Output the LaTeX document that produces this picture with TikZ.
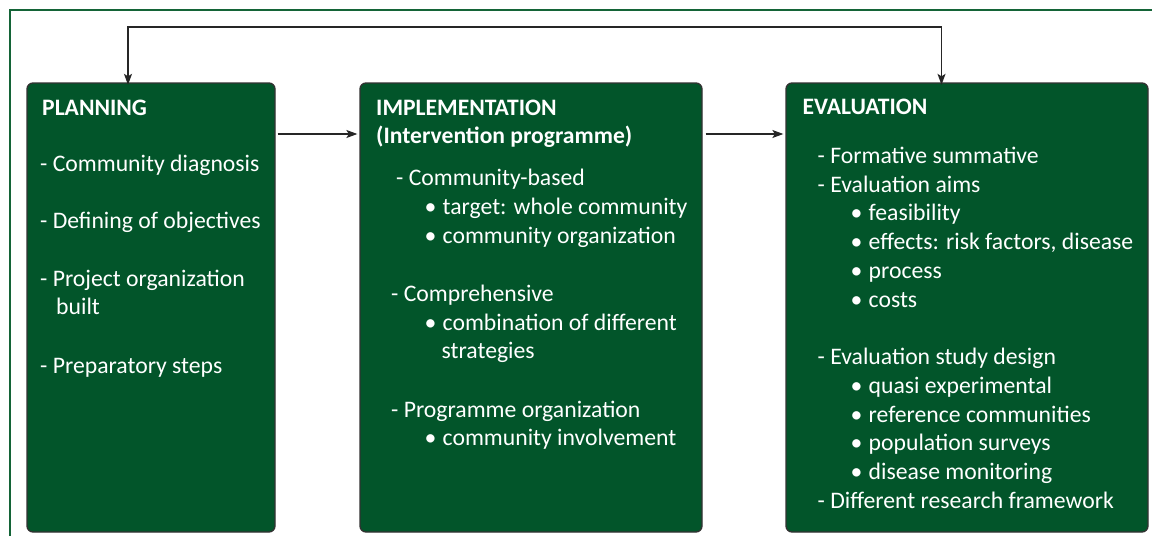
\documentclass[tikz,border=0pt]{standalone}
\usepackage{fontspec}
\setmainfont{Carlito}
\usetikzlibrary{arrows.meta,calc}
\definecolor{boxgreen}{RGB}{2,85,42}
\definecolor{framegreen}{RGB}{20,100,55}
\definecolor{edgegray}{RGB}{50,50,50}
\newcommand{\bul}{\makebox[14.5pt][l]{\hspace{-3.5pt}•}}
\tikzset{
  box/.style={draw=edgegray, line width=1.3pt, fill=boxgreen, rounded corners=6pt, inner sep=0pt},
  txt/.style={anchor=base west, inner sep=0pt, text=white, font=\fontsize{23.7}{28}\selectfont},
  ttl/.style={txt, font=\fontsize{23.6}{28}\selectfont\bfseries},
  arr/.style={draw=black!85, line width=1.3pt, -{Stealth[length=11pt,width=8pt,inset=2.5pt]}},
}
\begin{document}
\begin{tikzpicture}[x=1pt,y=-1pt]
\useasboundingbox (0,0) rectangle (1152,536);
\fill[white] (0,0) rectangle (1152,536);
\draw[framegreen, line width=1.8pt] (10,536) -- (10,10) -- (1152,10);
% boxes
\node[box, minimum width=248pt, minimum height=449pt] (plan) at (151,307.5) {};
\node[box, minimum width=342pt, minimum height=449pt] (impl) at (531,307.5) {};
\node[box, minimum width=362pt, minimum height=449pt] (eval) at (967,307.5) {};
% connectors
\coordinate (tl) at (128,27);
\coordinate (tr) at (941.5,27);
\draw[arr] (tr) -- (tl) -- ([yshift=-2.5pt]plan.north -| tl);
\draw[arr] (tl) -- (tr) -- ([yshift=-2.5pt]eval.north -| tr);
\draw[arr] (plan.east |- 0,134) ++(2,0) coordinate (a1) -- ([xshift=-2pt]impl.west |- a1);
\draw[arr] (impl.east |- 0,134) ++(3,0) coordinate (a2) -- ([xshift=-2pt]eval.west |- a2);
% planning text
\node[ttl] (p0) at (42,115) {PLANNING};
\node[txt] (p1) at (40,171) {- Community diagnosis};
\node[txt] (p2) at (40,228.5) {- Defining of objectives};
\node[txt] (p3) at (40,286.5) {- Project organization};
\node[txt] (p4) at (56,314.5) {built};
\node[txt] (p5) at (40,373) {- Preparatory steps};
% implementation text
\node[ttl] (i0) at (376,115) {IMPLEMENTATION};
\node[ttl] (i1) at (376,143.5) {(Intervention programme)};
\node[txt] (i2) at (396,185) {- Community-based};
\node[txt] (i3) at (428,214) {\bul target: whole community};
\node[txt] (i4) at (428,243) {\bul community organization};
\node[txt] (i5) at (391,301.5) {- Comprehensive};
\node[txt] (i6) at (428,330) {\bul combination of different};
\node[txt] (i7) at (441.5,358.5) {strategies};
\node[txt] (i8) at (391,417) {- Programme organization};
\node[txt] (i9) at (428,445.5) {\bul community involvement};
% evaluation text
\node[ttl] (e0) at (802.5,114) {EVALUATION};
\node[txt] (e1) at (817.5,163.3) {- Formative summative};
\node[txt] (e2) at (817.5,192) {- Evaluation aims};
\node[txt] (e3) at (854,220.8) {\bul feasibility};
\node[txt] (e4) at (854,249.5) {\bul effects: risk factors, disease};
\node[txt] (e5) at (854,278.3) {\bul process};
\node[txt] (e6) at (854,307) {\bul costs};
\node[txt] (e7) at (817.5,364.5) {- Evaluation study design};
\node[txt] (e8) at (854,393.3) {\bul quasi experimental};
\node[txt] (e9) at (854,422) {\bul reference communities};
\node[txt] (e10) at (854,450.8) {\bul population surveys};
\node[txt] (e11) at (854,479.5) {\bul disease monitoring};
\node[txt] (e12) at (817.5,508.3) {- Different research framework};
\end{tikzpicture}
\end{document}
